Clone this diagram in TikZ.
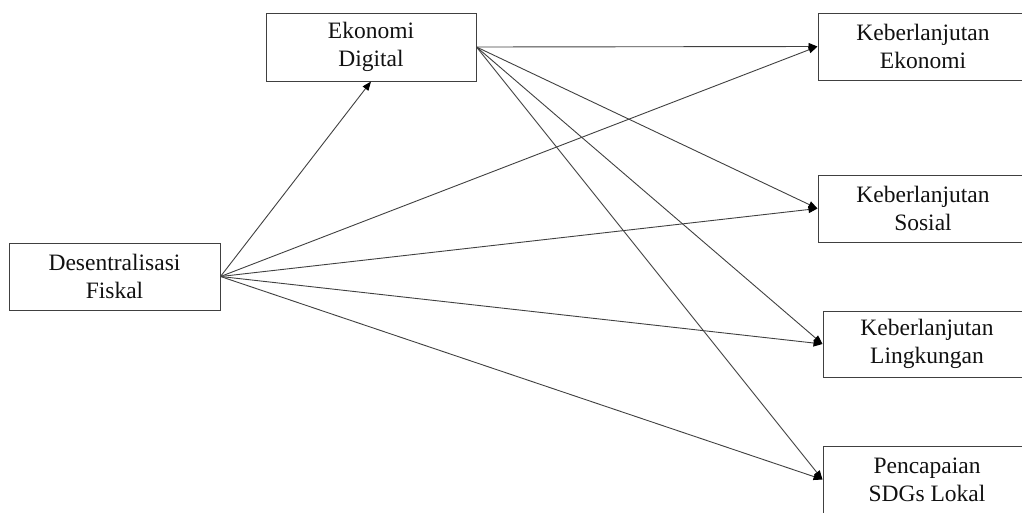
\documentclass[tikz,border=0pt]{standalone}
\usepackage{fontspec}
\setmainfont{Liberation Serif}
\usetikzlibrary{arrows.meta}
\definecolor{linegray}{HTML}{404040}
\definecolor{txt}{HTML}{111111}
\tikzset{
  box/.style={draw=linegray, line width=1pt, rectangle, align=center, inner sep=0pt,
    text=txt, font=\fontsize{23.5}{28}\selectfont},
  conn/.style={draw=linegray, line width=0.9pt,
    -{Triangle[length=9pt,width=7pt,fill=black,color=black]}}
}
\begin{document}
\begin{tikzpicture}[x=1pt,y=-1pt]
\useasboundingbox (0,0) rectangle (1022,512);
\clip (0,0) rectangle (1022,512);
\node[box, minimum width=211pt, minimum height=67pt] (fis) at (114.5,276.5) {Desentralisasi\\Fiskal};
\node[box, minimum width=210pt, minimum height=68pt] (dig) at (371,47) {Ekonomi\\Digital};
\node[box, minimum width=210pt, minimum height=67pt] (eko) at (923,46.5) {Keberlanjutan\\Ekonomi};
\node[box, minimum width=210pt, minimum height=67pt] (sos) at (923,208.5) {Keberlanjutan\\Sosial};
\node[box, minimum width=208pt, minimum height=66pt] (lin) at (927,344) {Keberlanjutan\\Lingkungan};
\node[box, minimum width=208pt, minimum height=67pt] (pen) at (927,479.5) {Pencapaian\\SDGs Lokal};
\draw[conn] (fis.east) -- (dig.south);
\draw[conn] (fis.east) -- (eko.west);
\draw[conn] (fis.east) -- (sos.west);
\draw[conn] (fis.east) -- (lin.west);
\draw[conn] (fis.east) -- (pen.west);
\draw[conn] (dig.east) -- (eko.west);
\draw[conn] (dig.east) -- (sos.west);
\draw[conn] (dig.east) -- (lin.west);
\draw[conn] (dig.east) -- (pen.west);
\end{tikzpicture}
\end{document}
